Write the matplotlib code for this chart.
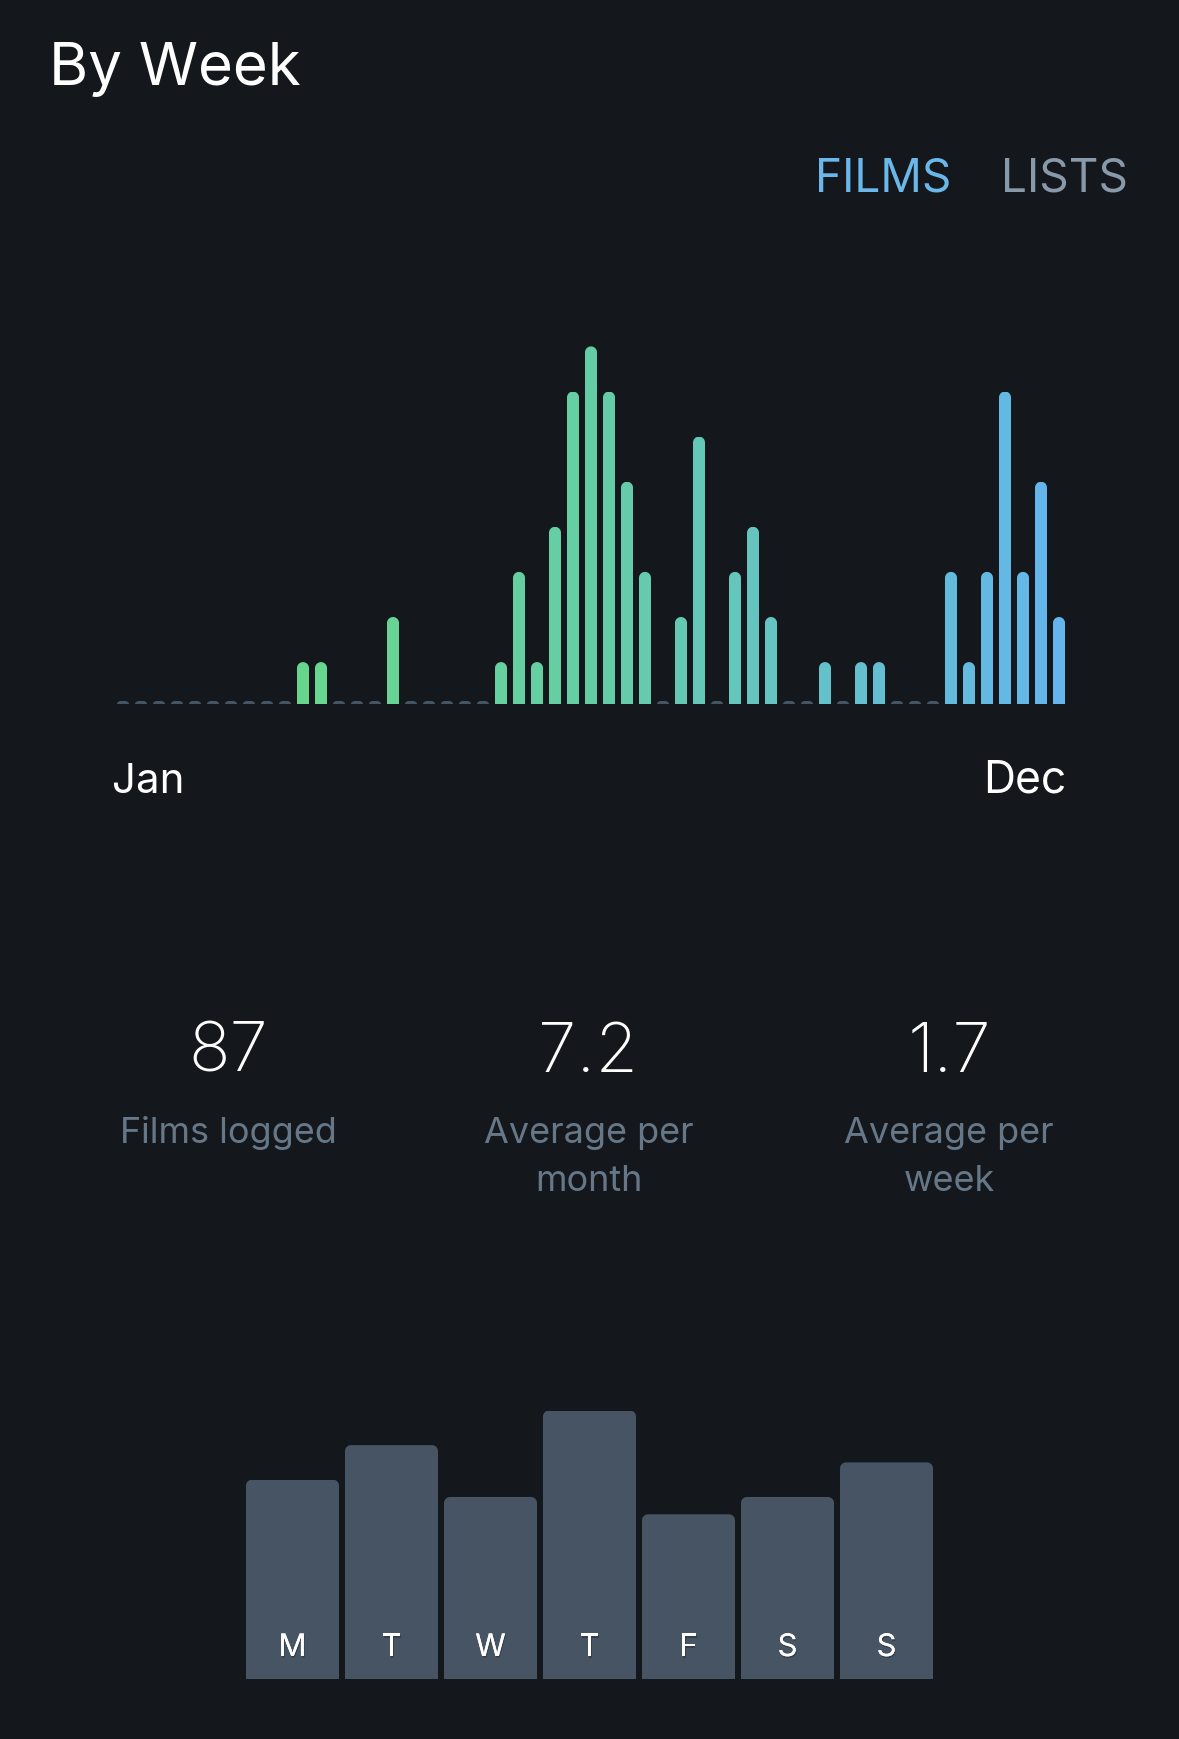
import numpy as np
import matplotlib
matplotlib.use("Agg")
import matplotlib.pyplot as plt
from matplotlib.path import Path
from matplotlib.colors import to_rgb, LinearSegmentedColormap
import matplotlib.patheffects as pe

# ---- data ----
films_per_week = [0,0,0,0,0,0,0,0,0,0,1,1,0,0,0,2,0,0,0,0,0,1,3,1,4,7,8,7,5,3,0,2,6,0,3,4,2,0,0,1,0,1,1,0,0,0,3,1,3,7,3,5,2]
day_labels = ["M","T","W","T","F","S","S"]
films_per_day = [11,13,10,15,9,10,12]
stat_values = ["87","7.2","1.7"]
stat_labels = ["Films logged","Average per\nmonth","Average per\nweek"]
tabs = ["FILMS","LISTS"]

W,H = 1179,1740
BG="#14181C"; STUB="#445566"; DAY="#475464"
FONT="Inter"
def pt(px): return px*0.72
def axes_px(fig,l,t,r,b):
    a=fig.add_axes([l/W,1-b/H,(r-l)/W,(b-t)/H]); a.axis("off"); a.patch.set_alpha(0); return a

def round_top(xc,w,top,base,rx,ry,n=13):
    # polygon with rounded top corners, clipped at the base
    t=np.linspace(0,np.pi/2,n)
    xl=xc-w/2+rx*(1-np.cos(t)); yl=top-ry*(1-np.sin(t))
    xr=xc+w/2-rx*(1-np.sin(t)); yr=top-ry*(1-np.cos(t))
    xs=np.r_[xl,xr]; ys=np.maximum(np.r_[yl,yr],base)
    v=np.c_[np.r_[xc-w/2,xs,xc+w/2,xc-w/2],np.r_[base,ys,base,base]]
    return Path(v,closed=True)

fig=plt.figure(figsize=(W/100,H/100),dpi=100,facecolor=BG)

# ---- weekly chart ----
UX,UY=18.0,45.1
ax=axes_px(fig,114,300,1068,705)
low=3.2/UY
ax.set_xlim(-0.5,52.5); ax.set_ylim(low,low+405/UY)
grad=LinearSegmentedColormap.from_list("g",["#69DC7C","#65CDA6","#64B5EC"])
stub_v=6.4/UY
for i,v in enumerate(films_per_week):
    col=grad(i/52) if v>0 else STUB
    h=v if v>0 else stub_v
    rx,ry=(6/UX,6/UY) if v>0 else (5/UX,3.2/UY)
    rect=ax.bar(i,h-low,bottom=low,width=12/UX,color=[col],linewidth=0)[0]
    rect.set_clip_path(round_top(i,12/UX,h,low,rx,ry),ax.transData)

# ---- weekday chart ----
DX,DY=99.0,17.3
ax2=axes_px(fig,246-3,1380,933+3,1680)
ax2.set_xlim(-0.5,-0.5+(936-243)/DX)
base=-9/DY
ax2.set_ylim(base,base+300/DY)
shadow=[pe.withSimplePatchShadow(offset=(0.6,-1.2),shadow_rgbFace="#000000",alpha=0.25),pe.Normal()]
for i,(v,lab) in enumerate(zip(films_per_day,day_labels)):
    rect=ax2.bar(i,v-base,bottom=base,width=93/DX,color=DAY,linewidth=0)[0]
    rect.set_clip_path(round_top(i,93/DX,v,base,6/DX,6/DY),ax2.transData)
    ax2.annotate(lab,(i,base),xytext=(0,23),textcoords="offset pixels",ha="center",va="baseline",
                 color="white",fontsize=pt(31),family=FONT,fontweight="normal",path_effects=shadow)

# ---- text ----
def T(x,y,s,px,color,ha="left",weight="normal",**k):
    return fig.text(x/W,1-y/H,s,fontsize=pt(px),color=color,ha=ha,va="baseline",family=FONT,fontweight=weight,**k)
T(49,85,"By Week",60,"white")
T(815,191,tabs[0],46,"#6AB8EA")
T(1001,191,tabs[1],46,"#8899AA")
T(112,793,"Jan",42,"white")
T(1066,793,"Dec",44.5,"white",ha="right")
for x,val,lab in zip([228,588.5,949],stat_values,stat_labels):
    T(x,1072,val,69,"white",ha="center",weight="light")
    l=lab.split("\n")
    for j,s in enumerate(l):
        T(x,1143+48.5*j,s,36,"#667788",ha="center")

fig.savefig("out.png",dpi=100,facecolor=BG)
